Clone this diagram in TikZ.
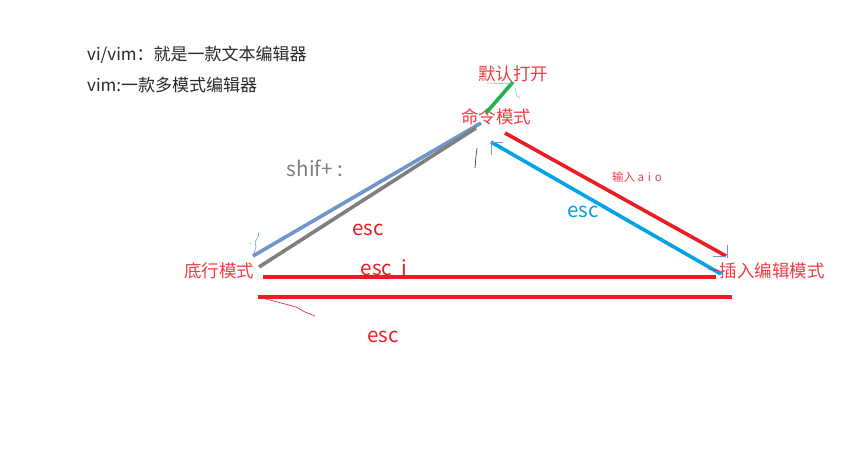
\documentclass[tikz,border=0pt]{standalone}
\usepackage{fontspec}
\setmainfont{Noto Sans CJK SC}
\begin{document}
\begin{tikzpicture}[x=1pt,y=-1pt,
  lbl/.style={inner sep=0pt,font=\fontsize{17.5}{20}\selectfont},
  toptxt/.style={inner sep=0pt,font=\fontsize{17}{19}\selectfont,anchor=west,text=dtext},
  redtxt/.style={lbl,text=txtred},
  big/.style={inner sep=0pt,font=\fontsize{20.5}{23}\selectfont},
  thick line/.style={line width=3.6pt},
  hint/.style={line width=0.6pt}]
\definecolor{txtred}{RGB}{240,60,70}
\definecolor{lred}{RGB}{237,28,36}
\definecolor{lblue}{RGB}{109,151,201}
\definecolor{lgray}{RGB}{127,127,127}
\definecolor{lcyan}{RGB}{0,162,232}
\definecolor{lgreen}{RGB}{34,177,76}
\definecolor{dtext}{RGB}{40,40,40}
\useasboundingbox[fill=white] (0,0) rectangle (865,462);
% texts
\node[toptxt] (t1) at (87,55) {vi/vim：就是一款文本编辑器};
\node[toptxt] (t2) at (87,85) {vim:一款多模式编辑器};
\node[redtxt] (open) at (513,74) {默认打开};
\node[redtxt] (cmd) at (496,117) {命令模式};
\node[redtxt] (bottom) at (219,271) {底行模式};
\node[redtxt] (insert) at (772,271) {插入编辑模式};
\node[big,text=lgray] (shif) at (315,168) {shif+ :};
\node[big,text=lred] (esc1) at (368,230) {esc};
\node[big,text=lred] (esci) at (384,268) {esc\ \ i};
\node[big,text=lred] (esc3) at (383,337) {esc};
\node[big,text=lcyan] (esc2) at (583,212) {esc};
\node[inner sep=0pt,text=txtred,font=\fontsize{11.5}{13}\selectfont] (aio) at (637,177) {输入 a\,\,i\,\,o};
% coordinates
\coordinate (b1) at (253,256); \coordinate (b2) at (481,123);
\coordinate (g1) at (259,267); \coordinate (g2) at (476,128);
\coordinate (gr1) at (486,113); \coordinate (gr2) at (513,82);
\coordinate (r1) at (505,133); \coordinate (r2) at (726,256);
\coordinate (c1) at (491,142); \coordinate (c2) at (721,274);
\coordinate (h1) at (263,277); \coordinate (h2) at (716,277);
\coordinate (k1) at (258,297); \coordinate (k2) at (732,297);
% thick lines
\draw[thick line,lblue] (b1) -- (b2);
\draw[thick line,lgray] (g1) -- (g2);
\draw[thick line,lgreen] (gr1) -- (gr2);
\draw[thick line,lred] (r1) -- (r2);
\draw[thick line,lcyan] (c1) -- (c2);
\draw[thick line,lred] (h1) -- (h2);
\draw[thick line,lred] (k1) -- (k2);
% hand-drawn hints
\draw[hint,lblue] (b1) -- (256,247) -- (255,242) -- (258,237) -- (259,232);
\draw[hint,lblue] (250,243) -- (251,243);
\draw[hint,dtext] (477,148) -- (476,156) -- (475,168);
\draw[hint,lblue] (c1) -- (491,155);
\draw[hint,lblue] (c1) -- (503,142);
\draw[hint,lblue] (727,245) -- (727,258);
\draw[hint,lblue] (713,256) -- (r2);
\draw[hint,lgreen!60] (487,83) -- (514,84);
\draw[hint,lgreen!60] (515,88) -- (517,96) -- (520,98);
\draw[hint,lred] (k1) -- (270,300) -- (285,304) -- (296,307) -- (305,312) -- (315,316);
\draw[hint,lred] (708,269) -- (720,271);
\end{tikzpicture}
\end{document}
